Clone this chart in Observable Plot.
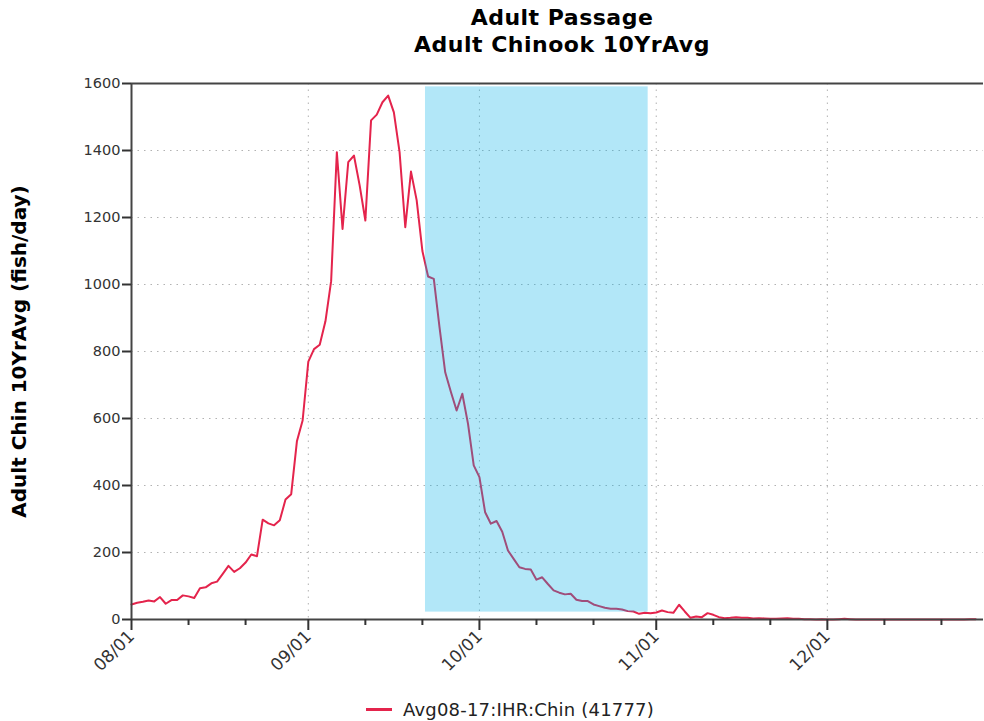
<!DOCTYPE html>
<html><head><meta charset="utf-8">
<script src="https://cdn.jsdelivr.net/npm/d3@7"></script>
<script src="https://cdn.jsdelivr.net/npm/@observablehq/plot@0.6"></script>
<style>
body{margin:0;background:#fff;font-family:"DejaVu Sans",sans-serif;width:984px;height:721px;overflow:hidden}
#title{height:60px;padding-left:140px;text-align:center;font-weight:bold;font-size:22px;letter-spacing:0.5px;line-height:27px;padding-top:4px;box-sizing:border-box;color:#000}
#chart svg{display:block}
#legend{height:23px;display:flex;align-items:center;padding-left:366px;font-size:18px;letter-spacing:0.2px;color:#222}
#legend .sw{display:inline-block;width:26px;height:3px;background:#e4244c;margin-right:11px}
</style></head><body>
<div id="title"><div>Adult Passage</div><div>Adult Chinook 10YrAvg</div></div>
<div id="chart"></div>
<div id="legend"><span class="sw"></span><span id="legtext"></span></div>
<script>
const seriesName = "Avg08-17:IHR:Chin (41777)";
const yLabel = "Adult Chin 10YrAvg (fish/day)";
const startDay = "2017-08-01";
// daily 10-year average passage, starting 08/01
const values = [
  45,50,53,57,54,67,47,58,58,72,
  69,64,93,96,108,113,136,160,142,153,
  170,194,189,298,287,281,296,358,374,532,
  594,770,807,820,890,1010,1395,1166,1365,1385,
  1296,1191,1490,1507,1544,1564,1514,1395,1171,1337,
  1251,1100,1024,1017,873,738,679,624,674,584,
  460,425,320,286,294,262,206,181,156,151,
  149,119,126,106,87,80,75,77,59,55,
  55,45,40,35,32,32,30,25,24,17,
  20,19,21,27,22,20,44,24,5,9,
  7,19,14,7,4,5,7,5,5,3,
  4,3,2,2,3,4,2,2,1,1,
  0,1,0,0,1,2,1,0,0,0,
  0,0,0,0,0,0,0,0,0,0,
  0,0,0,0,0,0,0,1,1
];
const monthTicks = ["2017-08-01","2017-09-01","2017-10-01","2017-11-01","2017-12-01"];
const minorTicks = ["2017-08-11","2017-08-21","2017-09-11","2017-09-21","2017-10-11","2017-10-21","2017-11-11","2017-11-21","2017-12-11","2017-12-21"];
const yTicks = [0,200,400,600,800,1000,1200,1400,1600];
const xDomain = ["2017-08-01T00:00Z","2017-12-28T09:00Z"];
const bandX = ["2017-09-21T13:00Z","2017-10-30T14:00Z"];
const bandY = [22,1590];

document.getElementById("legtext").textContent = seriesName;
const d0 = new Date(startDay + "T00:00Z");
const data = values.map((v,i)=>({date:new Date(d0.getTime()+i*864e5), v}));
const toD = s => new Date(s.length===10 ? s+"T00:00Z" : s);
const mT = monthTicks.map(toD), nT = minorTicks.map(toD);
const dom = xDomain.map(toD);
const fmt = d3.utcFormat("%m/%d");

const chart = Plot.plot({
  width:984, height:638,
  marginLeft:131, marginRight:1, marginTop:23, marginBottom:79,
  x:{type:"utc", domain:dom},
  y:{domain:[0,1600]},
  style:{fontFamily:"DejaVu Sans", fontSize:"14.5px", color:"#333", background:"white"},
  marks:[
    Plot.gridY(yTicks.filter(t=>t>0 && t<1600), {stroke:"#aaa", strokeOpacity:0.9, strokeDasharray:"1.5,5"}),
    Plot.gridX(mT.slice(1), {stroke:"#aaa", strokeOpacity:0.9, strokeDasharray:"1.5,5"}),
    Plot.lineY(data, {x:"date", y:"v", stroke:"#e4244c", strokeWidth:2}),
    Plot.rect([0], {x1:()=>toD(bandX[0]), x2:()=>toD(bandX[1]), y1:()=>bandY[0], y2:()=>bandY[1], fill:"#00b0e8", fillOpacity:0.3}),
    Plot.ruleY([1600], {stroke:"#444", strokeWidth:2}),
    Plot.ruleY([0], {stroke:"#444", strokeWidth:2}),
    Plot.ruleX([dom[0]], {stroke:"#444", strokeWidth:2}),
    Plot.axisY(yTicks, {tickSize:9, tickPadding:2, tickFormat:d=>String(d), label:null, stroke:"#333", strokeWidth:2, fill:"#333"}),
    Plot.axisX(mT, {tickSize:11, tickPadding:3, tickRotate:-45, tickFormat:fmt, fontSize:17, label:null, stroke:"#333", strokeWidth:2, fill:"#333"}),
    Plot.axisX(nT, {tickSize:6, tickFormat:()=>"", label:null, stroke:"#333", strokeWidth:2}),
    Plot.text([yLabel], {frameAnchor:"left", textAnchor:"middle", rotate:-90, dx:-112, fontWeight:"bold", fontSize:20, fill:"#000"})
  ]
});
document.getElementById("chart").appendChild(chart);
</script>
</body></html>
